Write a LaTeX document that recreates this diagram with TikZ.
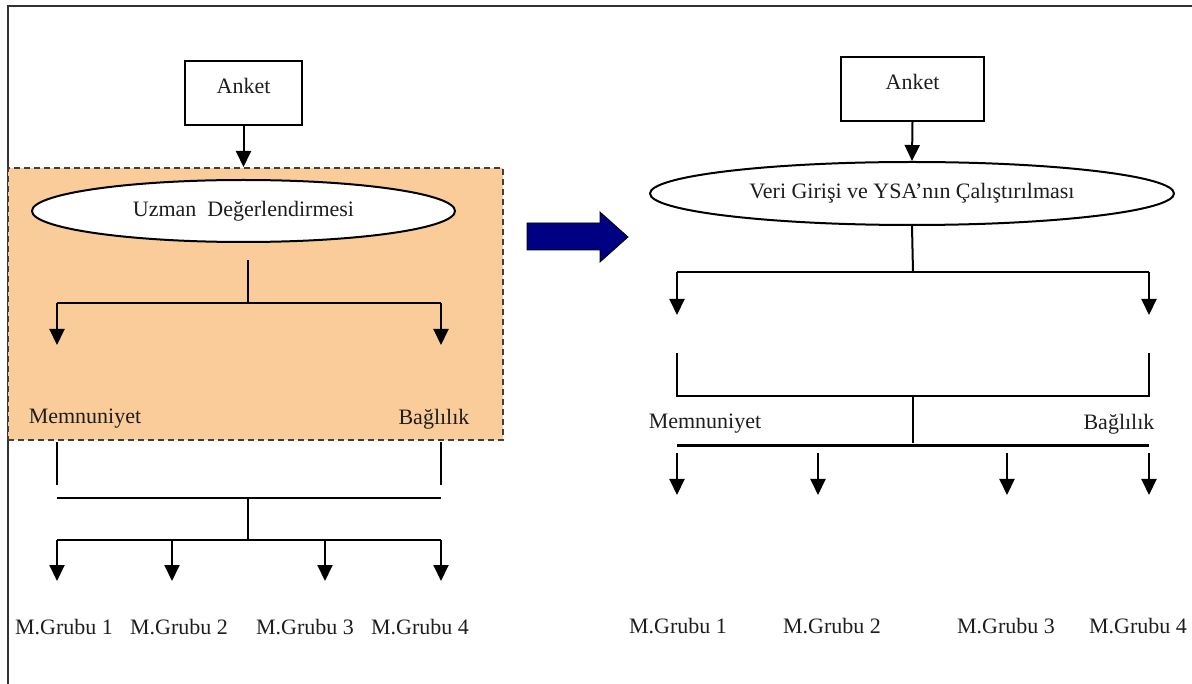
\documentclass[tikz,border=0pt]{standalone}
\usepackage{fontspec}
\setmainfont{Liberation Serif}
\usetikzlibrary{arrows.meta,shapes.geometric}
\definecolor{boxorange}{RGB}{250,204,153}
\definecolor{navyarrow}{RGB}{0,0,130}
\definecolor{ink}{RGB}{30,30,30}
\tikzset{
  every node/.style={font=\fontsize{22}{26}\selectfont, text=ink},
  wire/.style={line width=2pt, draw=black},
  flow/.style={wire, -{Triangle[width=15pt,length=16pt]}},
  box/.style={rectangle, draw=black, line width=2pt, fill=white, inner sep=0pt},
  oval/.style={ellipse, draw=black, line width=2pt, fill=white, inner sep=0pt},
  txt/.style={inner sep=0pt},
}
\begin{document}
\begin{tikzpicture}[x=1pt, y=-1pt]
\useasboundingbox (0,0) rectangle (1192,684);

% page frame (top and left edges)
\draw[line width=2.5pt, draw=black!80] (8,684) -- (8,6) -- (1192,6);

% ---------- left: expert evaluation ----------
\node[rectangle, draw=black!75, line width=2pt, dash pattern=on 6pt off 4pt,
      fill=boxorange, minimum width=495pt, minimum height=272pt, inner sep=0pt]
      (expert) at (255.5,304) {};
\node[box, minimum width=117pt, minimum height=64pt] (ankL) at (243.5,93) {};
\node[txt] (ankLt) at (243.5,86) {Anket};
\node[oval, minimum width=423pt, minimum height=62pt] (uzm) at (243.5,211) {Uzman\ \ Değerlendirmesi};
\draw[flow] (ankL.south) -- (ankL.south |- expert.north);

\coordinate (uzmStem) at (248,260);
\coordinate (lsplit) at (248,303);
\coordinate (lsL) at (57,303);
\coordinate (lsR) at (441,303);
\coordinate (lsLe) at (57,345);
\coordinate (lsRe) at (441,345);
\draw[wire] (uzmStem) -- (lsplit);
\draw[wire] (lsL) -- (lsR);
\draw[flow] (lsL) -- (lsLe);
\draw[flow] (lsR) -- (lsRe);

\node[txt] (memL) at (85,419) {Memnuniyet};
\node[txt] (bagL) at (434,419) {Bağlılık};

\coordinate (lmA) at (57,442);
\coordinate (lmB) at (57,485);
\coordinate (lbA) at (441,442);
\coordinate (lbB) at (441,485);
\coordinate (ljL) at (57,498);
\coordinate (ljR) at (441,498);
\coordinate (ljM) at (248,498);
\coordinate (lgM) at (248,540);
\coordinate (lg1) at (57,540);
\coordinate (lg2) at (172,540);
\coordinate (lg3) at (325,540);
\coordinate (lg4) at (441,540);
\draw[wire] (lmA) -- (lmB);
\draw[wire] (lbA) -- (lbB);
\draw[wire] (ljL) -- (ljR);
\draw[wire] (ljM) -- (lgM);
\draw[wire] (lg1) -- (lg4);

\node[txt] (lgr1) at (64,627) {M.Grubu 1};
\node[txt] (lgr2) at (179,627) {M.Grubu 2};
\node[txt] (lgr3) at (305,627) {M.Grubu 3};
\node[txt] (lgr4) at (420,627) {M.Grubu 4};
\foreach \g in {1,2,3,4} {
  \draw[flow] (lg\g) -- (lg\g |- 0,581);
}

% ---------- transition arrow ----------
\filldraw[fill=navyarrow, draw=black, line width=0.8pt]
  (527,223) -- (600,223) -- (600,212) -- (628,237) -- (600,262) -- (600,250) -- (527,250) -- cycle;

% ---------- right: neural network ----------
\node[box, minimum width=143pt, minimum height=64pt] (ankR) at (912.5,89) {};
\node[txt] (ankRt) at (912.5,82) {Anket};
\node[oval, minimum width=524pt, minimum height=63pt] (ysa) at (912,193.5) {Veri Girişi ve YSA’nın Çalıştırılması};
\draw[flow] (ankR.south) -- (ysa.north);

\coordinate (rsplit) at (913,272);
\coordinate (rsL) at (677,272);
\coordinate (rsR) at (1149,272);
\draw[wire] (ysa.south) -- (rsplit);
\draw[wire] (rsL) -- (rsR);
\draw[flow] (rsL) -- (677,315);
\draw[flow] (rsR) -- (1149,315);

\coordinate (rmA) at (677,353);
\coordinate (rbA) at (1149,353);
\coordinate (rjL) at (677,396);
\coordinate (rjR) at (1149,396);
\coordinate (rjM) at (913,396);
\coordinate (rgM) at (913,443);
\draw[wire] (rmA) -- (rjL) -- (rjR) -- (rbA);
\draw[wire] (rjM) -- (rgM);
\draw[line width=3pt] (677,446) -- (1149,446);

\node[txt] (memR) at (705,424) {Memnuniyet};
\node[txt] (bagR) at (1119,424) {Bağlılık};

\coordinate (rg1) at (677,453);
\coordinate (rg2) at (818,453);
\coordinate (rg3) at (1007,453);
\coordinate (rg4) at (1149,453);
\foreach \g in {1,2,3,4} {
  \draw[flow] (rg\g) -- (rg\g |- 0,495);
}

\node[txt] (rgr1) at (678,626) {M.Grubu 1};
\node[txt] (rgr2) at (832,626) {M.Grubu 2};
\node[txt] (rgr3) at (1006,626) {M.Grubu 3};
\node[txt] (rgr4) at (1138,626) {M.Grubu 4};
\end{tikzpicture}
\end{document}
